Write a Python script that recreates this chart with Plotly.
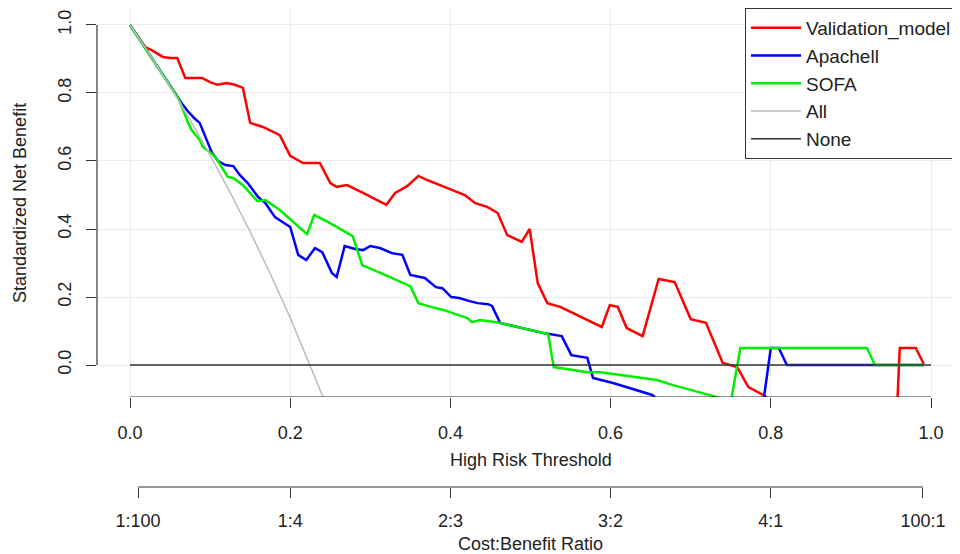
import plotly.graph_objects as go

# ---- data ----
thr_model = [0.0, 0.019, 0.027, 0.041, 0.050, 0.059, 0.069, 0.090, 0.100, 0.109, 0.121, 0.131, 0.141,
             0.150, 0.166, 0.187, 0.200, 0.216, 0.237, 0.250, 0.258, 0.271, 0.291, 0.320, 0.331, 0.346,
             0.360, 0.371, 0.387, 0.418, 0.431, 0.446, 0.459, 0.471, 0.489, 0.499, 0.509, 0.521, 0.537,
             0.589, 0.599, 0.609, 0.620, 0.640, 0.660, 0.680, 0.700, 0.719, 0.740, 0.758, 0.772, 0.793,
             0.800, 0.958, 0.961, 0.981, 0.991]
nb_model = [1.000, 0.935, 0.926, 0.906, 0.903, 0.903, 0.844, 0.844, 0.832, 0.824, 0.829, 0.824, 0.815,
            0.712, 0.700, 0.676, 0.615, 0.594, 0.594, 0.535, 0.524, 0.529, 0.506, 0.471, 0.506, 0.526,
            0.556, 0.544, 0.529, 0.500, 0.476, 0.465, 0.447, 0.382, 0.362, 0.400, 0.241, 0.182, 0.171,
            0.112, 0.176, 0.171, 0.109, 0.085, 0.253, 0.244, 0.135, 0.124, 0.006, -0.006, -0.065, -0.091,
            -0.110, -0.110, 0.050, 0.050, 0.003]

thr_apache = [0.0, 0.060, 0.066, 0.072, 0.081, 0.087, 0.094, 0.102, 0.110, 0.119, 0.129, 0.137, 0.147,
              0.160, 0.169, 0.181, 0.200, 0.210, 0.220, 0.231, 0.240, 0.252, 0.258, 0.268, 0.281, 0.291,
              0.300, 0.312, 0.327, 0.340, 0.350, 0.360, 0.368, 0.382, 0.390, 0.401, 0.411, 0.424, 0.434,
              0.447, 0.452, 0.462, 0.516, 0.539, 0.551, 0.571, 0.578, 0.603, 0.652, 0.660, 0.790, 0.800,
              0.810, 0.820, 0.991]
nb_apache = [1.000, 0.785, 0.765, 0.747, 0.724, 0.712, 0.671, 0.626, 0.600, 0.588, 0.585, 0.559, 0.535,
             0.494, 0.476, 0.435, 0.406, 0.324, 0.309, 0.344, 0.332, 0.271, 0.259, 0.350, 0.341, 0.338,
             0.350, 0.344, 0.329, 0.324, 0.265, 0.259, 0.256, 0.229, 0.226, 0.200, 0.197, 0.188, 0.182,
             0.179, 0.174, 0.124, 0.094, 0.085, 0.029, 0.021, -0.038, -0.053, -0.088, -0.105, -0.120, 0.050,
             0.050, 0.000, 0.000]

thr_sofa = [0.0, 0.060, 0.065, 0.072, 0.077, 0.087, 0.091, 0.104, 0.109, 0.122, 0.129, 0.141, 0.159,
            0.169, 0.187, 0.221, 0.230, 0.247, 0.278, 0.290, 0.321, 0.350, 0.360, 0.371, 0.391, 0.421,
            0.427, 0.437, 0.449, 0.462, 0.516, 0.522, 0.529, 0.571, 0.587, 0.658, 0.678, 0.733, 0.740,
            0.750, 0.762, 0.920, 0.930, 0.991]
nb_sofa = [1.000, 0.785, 0.759, 0.715, 0.691, 0.662, 0.641, 0.618, 0.603, 0.553, 0.550, 0.529, 0.482,
           0.485, 0.456, 0.385, 0.441, 0.421, 0.379, 0.294, 0.262, 0.232, 0.182, 0.174, 0.162, 0.138,
           0.126, 0.132, 0.129, 0.124, 0.094, 0.091, -0.006, -0.021, -0.021, -0.044, -0.059, -0.094, -0.110,
           -0.110, 0.050, 0.050, 0.000, 0.000]

thr_all = [0.0, 0.025, 0.05, 0.075, 0.10, 0.125, 0.15, 0.175, 0.20, 0.22, 0.241]
nb_all = [1.000, 0.912, 0.819, 0.721, 0.617, 0.508, 0.392, 0.269, 0.139, 0.028, -0.094]

thr_none = [0.0, 1.0]
nb_none = [0.0, 0.0]

x_ticks = [0.0, 0.2, 0.4, 0.6, 0.8, 1.0]
x_ticklabels = ["0.0", "0.2", "0.4", "0.6", "0.8", "1.0"]
y_ticks = [0.0, 0.2, 0.4, 0.6, 0.8, 1.0]
y_ticklabels = ["0.0", "0.2", "0.4", "0.6", "0.8", "1.0"]
cb_ticks = [0.01, 0.2, 0.4, 0.6, 0.8, 0.99]
cb_ticklabels = ["1:100", "1:4", "2:3", "3:2", "4:1", "100:1"]

# ---- figure ----
FONT = "Liberation Sans, Arial, sans-serif"
TXT = "#222222"
AX = "#333333"

fig = go.Figure()
fig.add_trace(go.Scatter(x=thr_model, y=nb_model, mode="lines", name="Validation_model",
                         line=dict(color="#ff0000", width=2.5)))
fig.add_trace(go.Scatter(x=thr_apache, y=nb_apache, mode="lines", name="Apachell",
                         line=dict(color="#0000ff", width=2.5)))
fig.add_trace(go.Scatter(x=thr_sofa, y=nb_sofa, mode="lines", name="SOFA",
                         line=dict(color="#00ee00", width=2.5)))
fig.add_trace(go.Scatter(x=thr_all, y=nb_all, mode="lines", name="All",
                         line=dict(color="#bbbbbb", width=1.5)))
fig.add_trace(go.Scatter(x=thr_none, y=nb_none, mode="lines", name="None",
                         line=dict(color="#333333", width=1.5)))
# invisible trace for the second (cost:benefit) axis
fig.add_trace(go.Scatter(x=cb_ticks, y=[0] * len(cb_ticks), mode="lines", showlegend=False,
                         line=dict(color="rgba(0,0,0,0)"), xaxis="x2", yaxis="y2", hoverinfo="skip"))

XR = [-0.0412, 1.0362]
main_bottom = 0.18868

# the page body has an 8px margin, so the figure is 8px smaller and shifted
fig.update_layout(
    width=952, height=546,
    margin=dict(l=89, r=0, t=2, b=67),
    paper_bgcolor="white", plot_bgcolor="white",
    font=dict(family=FONT, size=18, color=TXT),
    showlegend=True,
    legend=dict(x=0.9965, xanchor="right", y=1.005, yanchor="top",
                bgcolor="white", bordercolor=AX, borderwidth=1,
                itemwidth=50, tracegroupgap=0,
                font=dict(family=FONT, size=19, color=TXT)),
    xaxis=dict(range=XR, domain=[0, 1], anchor="y",
               tickvals=x_ticks, ticktext=x_ticklabels,
               ticks="outside", ticklen=10, tickcolor=AX, tickwidth=1,
               ticklabelstandoff=9,
               showgrid=True, gridcolor="#ebebeb", gridwidth=1,
               zeroline=False, showline=False),
    yaxis=dict(range=[-0.094, 1.044], domain=[main_bottom, 1], anchor="x",
               tickvals=y_ticks, ticktext=y_ticklabels, tickangle=-90,
               ticks="outside", ticklen=10, tickcolor=AX, tickwidth=1,
               ticklabelstandoff=8,
               showgrid=True, gridcolor="#ebebeb", gridwidth=1,
               zeroline=False, showline=False),
    xaxis2=dict(range=XR, domain=[0, 1], anchor="y2",
                tickvals=cb_ticks, ticktext=cb_ticklabels,
                ticks="outside", ticklen=10, tickcolor=AX, tickwidth=1,
                ticklabelstandoff=7,
                showgrid=False, zeroline=False, showline=False),
    yaxis2=dict(range=[0, 1], domain=[0, 0.002], anchor="x2", visible=False),
)

# axis lines (R-style, only spanning the tick range)
fig.add_shape(type="line", xref="x", yref="y", x0=0, x1=1, y0=-0.094, y1=-0.094,
              line=dict(color=AX, width=1.2))
fig.add_shape(type="line", xref="x2", yref="paper", x0=0.01, x1=0.99, y0=0, y1=0,
              line=dict(color=AX, width=1.2))
fig.add_shape(type="line", xref="paper", yref="y", x0=0, x1=0, y0=0, y1=1,
              line=dict(color=AX, width=1.2))

# axis titles
fig.add_annotation(text="High Risk Threshold", xref="x", yref="paper", x=0.5, y=(487 - 460) / 477,
                   showarrow=False, yanchor="middle", font=dict(size=18))
fig.add_annotation(text="Cost:Benefit Ratio", xref="x", yref="paper", x=0.5, y=(487 - 544) / 477,
                   showarrow=False, yanchor="middle", font=dict(size=18))
fig.add_annotation(text="Standardized Net Benefit", xref="paper", yref="paper",
                   x=(20 - 97) / 863, y=(487 - 203) / 477, textangle=-90,
                   showarrow=False, xanchor="center", yanchor="middle", font=dict(size=18))

fig.write_html("out.html")
